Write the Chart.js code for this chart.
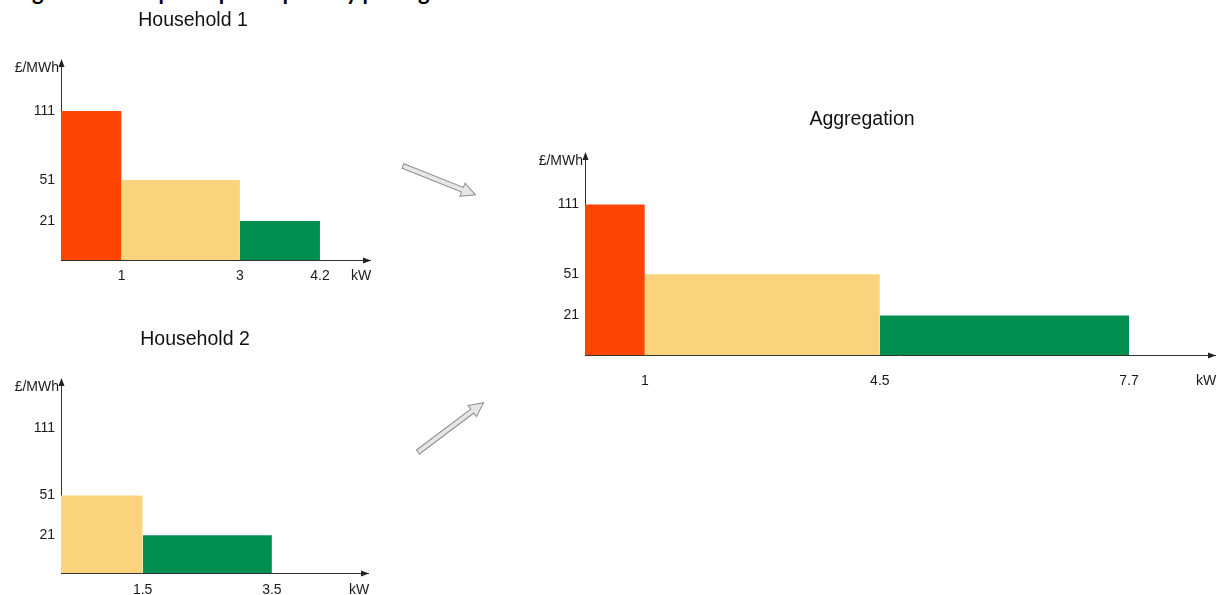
<!DOCTYPE html>
<html>
<head>
<meta charset="utf-8">
<title>Price-quantity pairs</title>
<script src="https://cdn.jsdelivr.net/npm/chart.js@4.4.1/dist/chart.umd.min.js"></script>
<style>
    html, body { margin: 0; padding: 0; background: #fff; overflow: hidden; }
    body { width: 1217px; height: 595px; position: relative; }
    .box { position: absolute; }
    #caption {
        position: absolute; left: 14px; top: -20px;
        font: bold 22px Lato, "Liberation Sans", sans-serif; line-height: 24px;
        color: #000; white-space: nowrap;
    }
    #arrows { position: absolute; left: 0; top: 0; }
</style>
</head>
<body>
<div id="caption">Figure 2: Example of price-quantity pairing</div>

<div class="box" style="left:0;top:0"><canvas id="house1" width="380" height="295"></canvas></div>
<div class="box" style="left:0;top:320px"><canvas id="house2" width="380" height="275"></canvas></div>
<div class="box" style="left:500px;top:95px"><canvas id="aggregate" width="717" height="300"></canvas></div>

<svg id="arrows" width="1217" height="595">
    <g fill="#e6e6e6" stroke="#8c8c8c" stroke-width="1">
        <g transform="translate(403,166) rotate(21.7)">
            <polygon points="0,-2.5 64,-2.5 64,-7 78,0 64,7 64,2.5 0,2.5"/>
        </g>
        <g transform="translate(418,452) rotate(-37)">
            <polygon points="0,-2.5 68,-2.5 68,-7 82,0 68,7 68,2.5 0,2.5"/>
        </g>
    </g>
</svg>

<script>
// price levels shown on every y axis (£/MWh)
const priceLevels = [21, 51, 111];

// Household 1: quantity steps (kW) and the price of each step
const house1Kw = [0, 1, 3, 4.2];
const house1Price = [111, 51, 21];
const house1Ticks = [1, 3, 4.2];

// Household 2
const house2Kw = [0, 1.5, 3.5];
const house2Price = [51, 21];
const house2Ticks = [1.5, 3.5];

// Aggregation of both households
const aggKw = [0, 1, 4.5, 7.7];
const aggPrice = [111, 51, 21];
const aggTicks = [1, 4.5, 7.7];

const priceColors = { 111: '#FD4402', 51: '#FCD37D', 21: '#008F51' };

const FONT = '"Liberation Sans", Arial, sans-serif';

// The drawing is schematic: axes are not linear, so a piecewise scale
// maps values to the axis through a few break points.
const LinearScale = Chart.LinearScale;
class SchematicScale extends LinearScale {
    toDecimal(v) {
        const b = this.options.breaks, s = this.options.stops;
        let i = 1;
        while (i < b.length - 1 && v > b[i]) i++;
        return s[i - 1] + (v - b[i - 1]) / (b[i] - b[i - 1]) * (s[i] - s[i - 1]);
    }
    fromDecimal(d) {
        const b = this.options.breaks, s = this.options.stops;
        let i = 1;
        while (i < s.length - 1 && d > s[i]) i++;
        return b[i - 1] + (d - s[i - 1]) / (s[i] - s[i - 1]) * (b[i] - b[i - 1]);
    }
    getPixelForValue(value) {
        if (value === null || value === undefined || isNaN(value)) return NaN;
        return this.getPixelForDecimal(this.toDecimal(value));
    }
    getValueForPixel(pixel) {
        return this.fromDecimal(this.getDecimalForPixel(pixel));
    }
}
SchematicScale.id = 'schematic';
SchematicScale.defaults = LinearScale.defaults;
Chart.register(SchematicScale);

// arrow heads + unit labels at the axis ends
const axisArrows = {
    id: 'axisArrows',
    afterDraw(chart, args, opts) {
        const { ctx, chartArea: { left, right, top, bottom } } = chart;
        ctx.save();
        ctx.fillStyle = '#222';
        ctx.beginPath();
        ctx.moveTo(left + 0.5, top - 1);
        ctx.lineTo(left - 2.5, top + 7);
        ctx.lineTo(left + 3.5, top + 7);
        ctx.closePath();
        ctx.fill();
        ctx.beginPath();
        ctx.moveTo(right + 1, bottom + 0.5);
        ctx.lineTo(right - 7, bottom - 2.5);
        ctx.lineTo(right - 7, bottom + 3.5);
        ctx.closePath();
        ctx.fill();

        ctx.font = '14px ' + FONT;
        ctx.fillStyle = '#1a1a1a';
        ctx.textBaseline = 'middle';
        ctx.textAlign = 'right';
        ctx.fillText(opts.yUnit, left - 2, top + 8);
        ctx.textAlign = 'center';
        ctx.fillText(opts.xUnit, right - 9, bottom + opts.unitDy);
        ctx.restore();
    }
};

function stepSets(kw, price) {
    return price.map((p, i) => ({
        data: [{ x: kw[i], y: p }, { x: kw[i + 1], y: p }],
        backgroundColor: priceColors[p],
        borderColor: 'rgba(0,0,0,0)',
        borderWidth: 0,
        pointRadius: 0,
        fill: 'start'
    }));
}

function drawPanel(id, s) {
    const tickFont = { family: FONT, size: 14 };
    return new Chart(document.getElementById(id), {
        type: 'line',
        data: { datasets: stepSets(s.kw, s.price) },
        plugins: [axisArrows],
        options: {
            responsive: false,
            animation: false,
            events: [],
            layout: { padding: s.padding },
            plugins: {
                legend: { display: false },
                tooltip: { enabled: false },
                title: {
                    display: true,
                    text: s.title,
                    color: '#111',
                    font: { family: FONT, size: 19.5, weight: 'normal' },
                    padding: s.titlePad
                },
                axisArrows: { yUnit: '£/MWh', xUnit: 'kW', unitDy: s.xTickPad + 8.4 }
            },
            scales: {
                x: {
                    type: 'schematic',
                    position: 'bottom',
                    min: 0,
                    max: s.xBreaks[s.xBreaks.length - 1],
                    breaks: s.xBreaks,
                    stops: s.xStops,
                    grid: { display: false, drawTicks: false },
                    border: { display: true, color: '#333', width: 1 },
                    afterBuildTicks: sc => { sc.ticks = s.ticks.map(v => ({ value: v })); },
                    afterFit: sc => { sc.height = s.xAxisHeight; },
                    ticks: {
                        autoSkip: false, maxRotation: 0, padding: s.xTickPad,
                        color: '#1a1a1a', font: tickFont,
                        callback: v => String(v)
                    }
                },
                y: {
                    type: 'schematic',
                    min: 0,
                    max: 150,
                    breaks: [0, 21, 51, 111, 150],
                    stops: [0, 0.195, 0.40, 0.745, 1],
                    grid: { display: false, drawTicks: false },
                    border: { display: true, color: '#333', width: 1 },
                    afterBuildTicks: sc => { sc.ticks = priceLevels.map(v => ({ value: v })); },
                    afterFit: sc => { sc.width = s.yAxisWidth; },
                    ticks: {
                        padding: 6, color: '#1a1a1a', font: tickFont,
                        callback: v => String(v)
                    }
                }
            }
        }
    });
}

drawPanel('house1', {
    title: 'Household 1',
    kw: house1Kw, price: house1Price, ticks: house1Ticks,
    xBreaks: [0, 1, 3, 4.2, 5.2], xStops: [0, 0.196, 0.579, 0.838, 1],
    padding: { left: 16, right: 10, top: 0, bottom: 0 },
    titlePad: { top: 9.3, bottom: 27.3 },
    yAxisWidth: 45, xAxisHeight: 35, xTickPad: 8
});

drawPanel('house2', {
    title: 'Household 2',
    kw: house2Kw, price: house2Price, ticks: house2Ticks,
    xBreaks: [0, 1.5, 3.5, 5.2], xStops: [0, 0.266, 0.687, 1],
    padding: { left: 22, right: 12, top: 0, bottom: 0 },
    titlePad: { top: 8.3, bottom: 27.3 },
    yAxisWidth: 39, xAxisHeight: 22, xTickPad: 9
});

drawPanel('aggregate', {
    title: 'Aggregation',
    kw: aggKw, price: aggPrice, ticks: aggTicks,
    xBreaks: [0, 1, 4.5, 7.7, 9], xStops: [0, 0.095, 0.468, 0.8635, 1],
    padding: { left: 9, right: 2, top: 0, bottom: 0 },
    titlePad: { top: 13.3, bottom: 21.3 },
    yAxisWidth: 76, xAxisHeight: 40, xTickPad: 18
});
</script>
</body>
</html>
